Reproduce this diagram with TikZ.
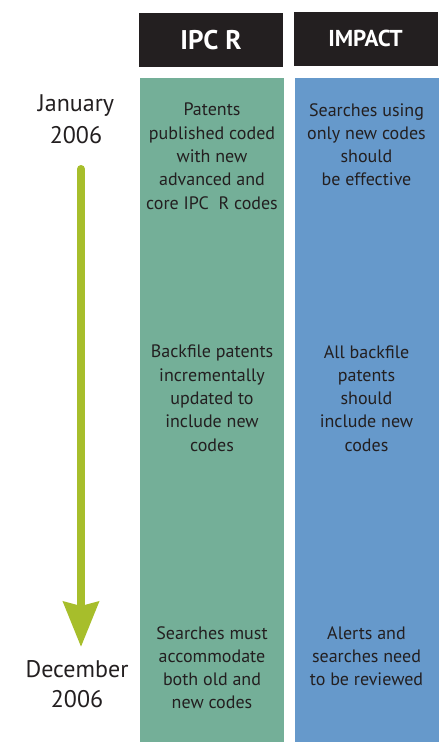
\documentclass[tikz,border=0pt]{standalone}
\usepackage{fontspec}
\setmainfont{PT Sans}
\usetikzlibrary{arrows.meta}

\definecolor{headblack}{HTML}{231F20}
\definecolor{ipcgreen}{HTML}{74AF98}
\definecolor{impactblue}{HTML}{6699CB}
\definecolor{timegreen}{HTML}{A7BE2B}

\begin{document}
\begin{tikzpicture}[x=1pt,y=-1pt,
    headbox/.style={fill=headblack, text=white, font=\bfseries, minimum width=144pt, minimum height=54pt, inner sep=0pt},
    colbox/.style={minimum width=144pt, minimum height=664pt, inner sep=0pt},
    celltext/.style={anchor=north, align=center, inner sep=0pt, text=headblack, font=\fontsize{18}{23.3}\selectfont},
    datetext/.style={align=center, inner sep=0pt, text=headblack, font=\fontsize{24}{32}\selectfont}]
    \useasboundingbox (0,0) rectangle (443,742);

    % columns
    \node[colbox, fill=ipcgreen] (ipc) at (212,410) {};
    \node[colbox, fill=impactblue] (impact) at (366.5,410) {};

    % headers
    \node[headbox] (ipchead) at (211,40) {\fontsize{27}{30}\selectfont IPC R};
    \node[headbox] (impacthead) at (365.5,38.5) {\fontsize{23}{26}\selectfont IMPACT};

    % dates
    \node[datetext] (jan) at (76,119) {January\\2006};
    \node[datetext, font=\fontsize{24}{30}\selectfont] (dec) at (77,684) {December\\2006};

    % timeline
    \coordinate (tstart) at (81,169);
    \coordinate (tend) at (81,647);
    \draw[timegreen, line width=8pt, line cap=round, -{Stealth[length=45pt, width=35pt, inset=4pt]}] (tstart) -- (tend);

    % IPC R column
    \node[celltext] (ipcA) at (212,103) {Patents\\published coded\\with new\\advanced and\\core IPC\ \ R codes};
    \node[celltext] (ipcB) at (212,345) {Backfile patents\\incrementally\\updated to\\include new\\codes};
    \node[celltext] (ipcC) at (212,626) {Searches must\\accommodate\\both old and\\new codes};

    % IMPACT column
    \node[celltext] (impA) at (366.5,103) {Searches using\\only new codes\\should\\be effective};
    \node[celltext] (impB) at (366.5,345) {All backfile\\patents\\should\\include new\\codes};
    \node[celltext] (impC) at (366.5,626) {Alerts and\\searches need\\to be reviewed};

\end{tikzpicture}
\end{document}
